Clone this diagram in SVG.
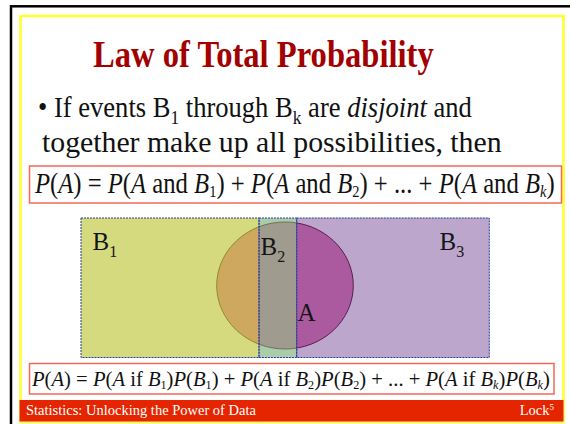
<svg xmlns="http://www.w3.org/2000/svg" width="570" height="424" viewBox="0 0 570 424">
<style>
.serif{font-family:"Liberation Serif","Times New Roman",serif;}
.it{font-style:italic;}
.eqbox{fill:#ffffff;stroke:#F2695A;stroke-width:1.5;}
.border{fill:none;stroke:#2B3A9A;stroke-width:1;stroke-dasharray:2 1;}
.lbl{font-family:"Liberation Serif","Times New Roman",serif;font-size:25px;fill:#151515;}
.sub{font-size:16px;}
</style>
<defs>
<clipPath id="c1"><rect x="81" y="210" width="178" height="150"/></clipPath>
<clipPath id="c2"><rect x="259" y="210" width="37.7" height="150"/></clipPath>
<clipPath id="c3"><rect x="296.7" y="210" width="193" height="150"/></clipPath>
</defs>
<rect x="0" y="0" width="570" height="424" fill="#ffffff"/>
<g id="frame">
<rect x="11" y="6.3" width="590" height="440" fill="#ffffff" stroke="#000000" stroke-width="2.5"/>
<rect x="20.5" y="16" width="543" height="406" fill="#ffffff" stroke="#FFFF33" stroke-width="2.6"/>
</g>
<g id="title">
<text transform="translate(93,67) scale(0.858,1)" x="0" y="0" class="serif" font-size="38" font-weight="bold" fill="#A30000">Law of Total Probability</text>
</g>
<g id="bullet">
<text transform="translate(38,117) scale(0.916,1)" x="0" y="0" class="serif" font-size="29" fill="#111111">• If events B<tspan font-size="19" dy="7">1</tspan><tspan dy="-7"> through B</tspan><tspan font-size="19" dy="7">k</tspan><tspan dy="-7"> are </tspan><tspan class="it">disjoint</tspan><tspan> and</tspan></text>
<text transform="translate(42,152) scale(1.027,1)" x="0" y="0" class="serif" font-size="29" fill="#111111">together make up all possibilities, then</text>
</g>
<g id="equation1">
<rect class="eqbox" x="29.5" y="166" width="532" height="37"/>
<text transform="translate(35,193) scale(0.851,1)" x="0" y="0" class="serif" font-size="29" fill="#111111"><tspan class="it">P</tspan><tspan>(</tspan><tspan class="it">A</tspan><tspan>) = </tspan><tspan class="it">P</tspan><tspan>(</tspan><tspan class="it">A</tspan><tspan> and </tspan><tspan class="it">B</tspan><tspan font-size="17" dy="4">1</tspan><tspan dy="-4">) + </tspan><tspan class="it">P</tspan><tspan>(</tspan><tspan class="it">A</tspan><tspan> and </tspan><tspan class="it">B</tspan><tspan font-size="17" dy="4">2</tspan><tspan dy="-4">) + ... + </tspan><tspan class="it">P</tspan><tspan>(</tspan><tspan class="it">A</tspan><tspan> and </tspan><tspan class="it">B</tspan><tspan font-size="17" dy="4" class="it">k</tspan><tspan dy="-4">)</tspan></text>
</g>
<g id="venn">
<rect id="B1" x="81" y="218" width="178" height="139.5" fill="#D6DA7F"/>
<rect id="B2" x="259" y="218" width="37.7" height="139.5" fill="#A8CDA8"/>
<rect id="B3" x="296.7" y="218" width="192.6" height="139.5" fill="#BCA6CC"/>
<g id="A">
<ellipse clip-path="url(#c1)" cx="285" cy="285.5" rx="68.3" ry="63.5" fill="#CFA860" stroke="#8E8A2E" stroke-width="1"/>
<ellipse clip-path="url(#c2)" cx="285" cy="285.5" rx="68.3" ry="63.5" fill="#9F9B8F" stroke="#707060" stroke-width="1"/>
<ellipse clip-path="url(#c3)" cx="285" cy="285.5" rx="68.3" ry="63.5" fill="#AC5AA0" stroke="#5A1E4E" stroke-width="1"/>
</g>
<rect class="border" x="81" y="218" width="178" height="139.5"/>
<rect class="border" x="259" y="218" width="37.7" height="139.5"/>
<rect class="border" x="296.7" y="218" width="192.6" height="139.5"/>
<text class="lbl" x="92.5" y="250">B<tspan class="sub" dy="6.5">1</tspan></text>
<text class="lbl" x="260.5" y="254.5">B<tspan class="sub" dy="7">2</tspan></text>
<text class="lbl" x="439.5" y="250">B<tspan class="sub" dy="6.5">3</tspan></text>
<text class="lbl" x="297.5" y="320.5" font-size="27" fill="#3A0A1E">A</text>
</g>
<g id="equation2">
<rect class="eqbox" x="29.5" y="363.5" width="524.5" height="30.5"/>
<text transform="translate(32,386) scale(0.938,1)" x="0" y="0" class="serif" font-size="22" fill="#111111"><tspan class="it">P</tspan><tspan>(</tspan><tspan class="it">A</tspan><tspan>) = </tspan><tspan class="it">P</tspan><tspan>(</tspan><tspan class="it">A</tspan><tspan> if </tspan><tspan class="it">B</tspan><tspan font-size="13" dy="3">1</tspan><tspan dy="-3">)</tspan><tspan class="it">P</tspan><tspan>(</tspan><tspan class="it">B</tspan><tspan font-size="13" dy="3">1</tspan><tspan dy="-3">) + </tspan><tspan class="it">P</tspan><tspan>(</tspan><tspan class="it">A</tspan><tspan> if </tspan><tspan class="it">B</tspan><tspan font-size="13" dy="3">2</tspan><tspan dy="-3">)</tspan><tspan class="it">P</tspan><tspan>(</tspan><tspan class="it">B</tspan><tspan font-size="13" dy="3">2</tspan><tspan dy="-3">) + ... + </tspan><tspan class="it">P</tspan><tspan>(</tspan><tspan class="it">A</tspan><tspan> if </tspan><tspan class="it">B</tspan><tspan font-size="13" dy="3" class="it">k</tspan><tspan dy="-3">)</tspan><tspan class="it">P</tspan><tspan>(</tspan><tspan class="it">B</tspan><tspan font-size="13" dy="3" class="it">k</tspan><tspan dy="-3">)</tspan></text>
</g>
<g id="footer">
<rect x="19.5" y="400" width="544" height="21.5" fill="#E52400"/>
<text x="26" y="414.5" class="serif" font-size="14.5" fill="#ffffff">Statistics: Unlocking the Power of Data</text>
<text x="554" y="414.5" class="serif" font-size="14.5" fill="#ffffff" text-anchor="end">Lock<tspan font-size="9" dy="-5">5</tspan></text>
</g>
</svg>
